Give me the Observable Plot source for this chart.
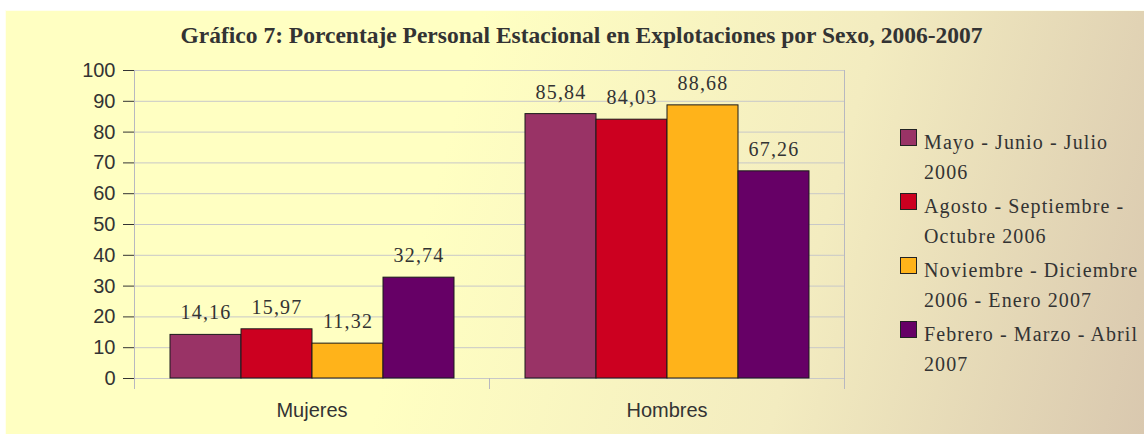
<!DOCTYPE html>
<html>
<head>
<meta charset="utf-8">
<script src="https://cdn.jsdelivr.net/npm/d3@7"></script>
<script src="https://cdn.jsdelivr.net/npm/@observablehq/plot@0.6"></script>
<style>
  html, body { margin: 0; padding: 0; background: #fff; overflow: hidden; }
  #wrap { position: relative; width: 1144px; height: 434px; overflow: hidden; }
  #panel { position: absolute; left: 5px; top: 10px; right: 0; bottom: 0;
    background: linear-gradient(105deg, #FFFFC2 0%, #FFFFC2 38%, #F3ECC0 70%, #D9C8AF 100%);
    border-left: 1px solid #fffff0; border-top: 1px solid #fffff0; }
  #title { position: absolute; left: 0; width: 1163px; top: 22px; text-align: center;
    font: bold 23.5px/26px "Liberation Serif", serif; color: #333; white-space: nowrap; }
  #chart { position: absolute; left: 0; top: 0; }
  #legend { position: absolute; left: 900px; top: 127px; font: 20px/30px "Liberation Serif", serif;
    color: #333; letter-spacing: 1.1px; }
  .item { display: flex; align-items: flex-start; margin-bottom: 4px; white-space: nowrap; }
  .sw { width: 17px; height: 17px; box-sizing: border-box; border: 1px solid #222; margin-top: 2px; margin-right: 7px; flex: none; }
  .lbl { white-space: pre; }
  g[aria-label="y-axis tick"] { stroke: #b0b0ba; }
  g[aria-label="text"] text { letter-spacing: 1.2px; }
</style>
</head>
<body>
<div id="wrap">
  <div id="panel"></div>
  <div id="title"></div>
  <div id="chart"></div>
  <div id="legend"></div>
</div>
<script>
const titleText = "Gráfico 7: Porcentaje Personal Estacional en Explotaciones por Sexo, 2006-2007";
const sexes = ["Mujeres", "Hombres"];
const periods = [
  "Mayo - Junio - Julio\n2006",
  "Agosto - Septiembre -\nOctubre 2006",
  "Noviembre - Diciembre\n2006 - Enero 2007",
  "Febrero - Marzo - Abril\n2007"
];
const mujeres = [14.16, 15.97, 11.32, 32.74];
const hombres = [85.84, 84.03, 88.68, 67.26];
const colors = ["#993366", "#CC0020", "#FFB31A", "#660066"];
const yTicks = [0, 10, 20, 30, 40, 50, 60, 70, 80, 90, 100];

const data = [];
periods.forEach((p, i) => data.push({sex: "Mujeres", period: p, value: mujeres[i]}));
periods.forEach((p, i) => data.push({sex: "Hombres", period: p, value: hombres[i]}));

const fmt = v => v.toFixed(2).replace(".", ",");

document.getElementById("title").textContent = titleText;

const plot = Plot.plot({
  width: 1144,
  height: 434,
  marginLeft: 134,
  marginRight: 300,
  marginTop: 70,
  marginBottom: 56,
  style: {background: "transparent", fontFamily: "Liberation Sans, Arial, sans-serif", fontSize: "20px", color: "#333", overflow: "visible"},
  fx: {domain: sexes, padding: 0, label: null, axis: "bottom", tickSize: 0, tickPadding: 24},
  x: {domain: periods, paddingInner: 0, paddingOuter: 0.5, axis: null},
  y: {domain: [0, 100], ticks: yTicks, tickSize: 11, tickPadding: 8, label: null},
  color: {domain: periods, range: colors},
  marks: [
    Plot.ruleY(yTicks, {stroke: "#c8c8c8", strokeWidth: 1}),
    Plot.barY(data, {fx: "sex", x: "period", y: "value", fill: "period", stroke: "#1a1a1a", strokeWidth: 1}),
    Plot.text(data, {fx: "sex", x: "period", y: "value", text: d => fmt(d.value), dy: -22,
      fontFamily: "Liberation Serif, serif", fontSize: 20, fill: "#333"})
  ]
});
document.getElementById("chart").appendChild(plot);

// axis line, right border and category ticks from the scales
const fx = plot.scale("fx"), y = plot.scale("y");
const y0 = y.apply(0), yTop = y.apply(100);
const svg = d3.select(plot);
const g = svg.append("g").attr("stroke", "#b8b8c0").attr("stroke-width", 1);
const left = fx.apply(sexes[0]);
const bounds = [left, ...sexes.map(s => fx.apply(s) + fx.bandwidth)];
bounds.forEach(b => g.append("line").attr("x1", b + 0.5).attr("x2", b + 0.5).attr("y1", y0).attr("y2", y0 + 11));
g.append("line").attr("x1", left + 0.5).attr("x2", left + 0.5).attr("y1", yTop).attr("y2", y0 + 11);
g.append("line").attr("x1", bounds[bounds.length - 1] + 0.5).attr("x2", bounds[bounds.length - 1] + 0.5).attr("y1", yTop).attr("y2", y0 + 11);

// legend
const legend = d3.select("#legend");
periods.forEach((p, i) => {
  const it = legend.append("div").attr("class", "item");
  it.append("div").attr("class", "sw").style("background", colors[i]);
  it.append("div").attr("class", "lbl").text(p);
});
</script>
</body>
</html>
